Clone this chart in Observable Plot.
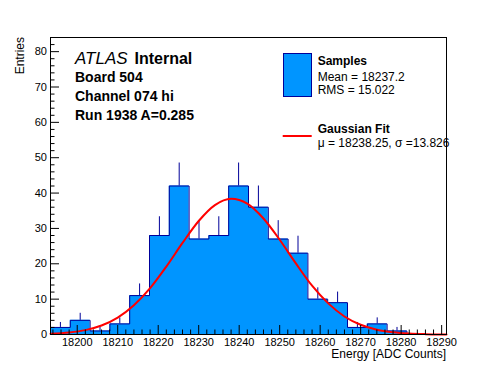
<!DOCTYPE html>
<html><head><meta charset="utf-8">
<script src="https://cdn.jsdelivr.net/npm/d3@7"></script>
<script src="https://cdn.jsdelivr.net/npm/@observablehq/plot@0.6"></script>
<style>
body{margin:0;background:#fff;}
#chart svg{display:block;}
</style>
</head><body><div id="chart"></div>
<script>
// ---- data ----
const binLow = 18193.4;
const binWidth = 4.89;
const counts = [2, 4, 1, 3, 11, 28, 42, 27, 28, 42, 36, 27, 23, 10, 9, 2, 3, 1, 0, 0];
const errors = [1.4, 2, 1, 1.7, 3.3, 5.3, 6.5, 5.2, 5.3, 6.5, 6, 5.2, 4.8, 3.2, 3, 1.4, 1.7, 1, 0, 0];
const fitX = [18193.4, 18198, 18202, 18206, 18210, 18214, 18218, 18222, 18226, 18230, 18234, 18238,
              18242, 18246, 18250, 18254, 18258, 18262, 18266, 18270, 18274, 18278, 18282, 18286, 18290, 18291.2];
const fitY = [0.2, 0.56, 1.24, 2.53, 4.77, 8.25, 13.1, 19.2, 25.9, 32.1, 36.6, 38.4,
              37.0, 32.8, 26.8, 20.1, 13.8, 8.8, 5.1, 2.75, 1.36, 0.62, 0.26, 0.1, 0.03, 0.02];
const xMajor = [18200, 18210, 18220, 18230, 18240, 18250, 18260, 18270, 18280, 18290];
const yMajor = [0, 10, 20, 30, 40, 50, 60, 70, 80];
const xDomain = [18193.4, 18291.2];
const yDomain = [0, 84];
const xTitle = "Energy [ADC Counts]";
const yTitle = "Entries";
const labelLines = ["Board 504", "Channel 074 hi", "Run 1938 A=0.285"];
const legendHist = ["Samples", "Mean = 18237.2", "RMS = 15.022"];
const legendFit = ["Gaussian Fit", "\u03bc = 18238.25, \u03c3 =13.826"];

// ---- derived tables ----
const bins = counts.map((c, i) => ({
  x1: binLow + i * binWidth,
  x2: binLow + (i + 1) * binWidth,
  xm: binLow + (i + 0.5) * binWidth,
  y: c,
  err: errors[i]
}));
const outline = bins.flatMap(b => [{x: b.x1, y: b.y}, {x: b.x2, y: b.y}]);
const fit = fitX.map((x, i) => ({x, y: fitY[i]}));
const xMinor = d3.range(18194, 18291, 2).filter(v => v % 10 !== 0);
const yMinor = d3.range(2, 84, 2).filter(v => v % 10 !== 0);

const W = 496, H = 372, mL = 50, mR = 50, mT = 37, mB = 38;
const innerW = W - mL - mR, innerH = H - mT - mB;
const FONT = "'Liberation Sans', Arial, Helvetica, sans-serif";
const FILL = "#0095ff", EDGE = "#000099";

const plot = Plot.plot({
  width: W, height: H,
  marginLeft: mL, marginRight: mR, marginTop: mT, marginBottom: mB,
  style: {fontFamily: FONT, fontSize: "11px", color: "black", background: "white"},
  x: {domain: xDomain, label: null},
  y: {domain: yDomain, label: null},
  marks: [
    Plot.areaY(outline, {x: "x", y1: 0, y2: "y", fill: FILL}),
    Plot.ruleX(bins.filter(b => b.err > 0), {x: "xm", y1: "y", y2: d => d.y + d.err, stroke: EDGE, strokeWidth: 1}),
    Plot.line(outline, {x: "x", y: "y", stroke: EDGE, strokeWidth: 1}),
    Plot.line(fit, {x: "x", y: "y", stroke: "#ff0000", strokeWidth: 2, curve: "monotone-x"}),
    Plot.ruleX(xMajor, {x: d => d, insetTop: innerH - 9, stroke: "black"}),
    Plot.ruleX(xMinor, {x: d => d, insetTop: innerH - 4.5, stroke: "black"}),
    Plot.ruleY(yMajor, {y: d => d, insetRight: innerW - 9, stroke: "black"}),
    Plot.ruleY(yMinor, {y: d => d, insetRight: innerW - 4.5, stroke: "black"}),
    Plot.axisX({ticks: xMajor, tickSize: 0, tickPadding: 4, tickFormat: d => String(d), label: null, fontSize: 11}),
    Plot.axisY({ticks: yMajor, tickSize: 0, tickPadding: 3.5, tickFormat: d => String(d), label: null, fontSize: 11}),
    Plot.frame({stroke: "black", strokeWidth: 1})
  ]
});

const svg = d3.select(plot);
const g = svg.append("g").attr("font-family", FONT).attr("fill", "black").attr("text-anchor", "start");

g.append("text").text(yTitle).attr("font-size", 12).attr("text-anchor", "end")
  .attr("transform", "translate(23.5,37) rotate(-90)");
g.append("text").text(xTitle).attr("font-size", 12).attr("text-anchor", "end")
  .attr("x", 446).attr("y", 358);

g.append("text").text("ATLAS").attr("font-size", 17).attr("font-style", "italic")
  .attr("x", 75).attr("y", 63.5);
g.append("text").text("Internal").attr("font-size", 16).attr("font-weight", "bold")
  .attr("x", 134.5).attr("y", 63.5);
labelLines.forEach((t, i) => {
  g.append("text").text(t).attr("font-size", 14).attr("font-weight", "bold")
    .attr("x", 75).attr("y", 82.3 + i * 18.6);
});

// legend
g.append("rect").attr("x", 283.5).attr("y", 53.5).attr("width", 28).attr("height", 43)
  .attr("fill", FILL).attr("stroke", EDGE).attr("stroke-width", 1);
const histY = [65, 80.5, 94];
legendHist.forEach((t, i) => {
  g.append("text").text(t).attr("font-size", 12).attr("font-weight", i === 0 ? "bold" : "normal")
    .attr("x", 317.7).attr("y", histY[i]);
});
g.append("line").attr("x1", 282.7).attr("x2", 311.7).attr("y1", 136).attr("y2", 136)
  .attr("stroke", "#ff0000").attr("stroke-width", 2);
const fitTY = [133, 147];
legendFit.forEach((t, i) => {
  g.append("text").text(t).attr("font-size", 12).attr("font-weight", i === 0 ? "bold" : "normal")
    .attr("x", 317.7).attr("y", fitTY[i]);
});

document.getElementById("chart").appendChild(plot);
</script>
</body></html>
